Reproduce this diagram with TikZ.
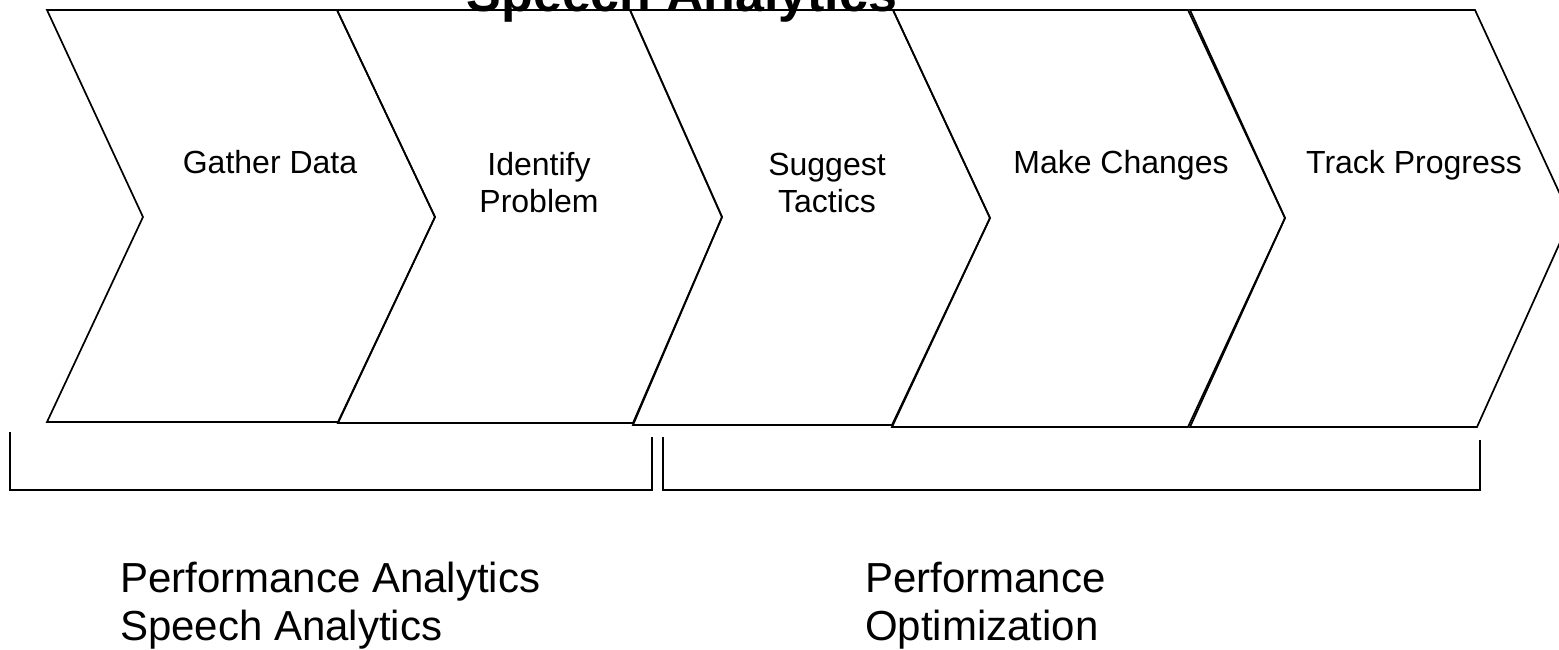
\documentclass[tikz,border=0pt]{standalone}
\usepackage{fontspec}
\setmainfont{Liberation Sans}

\begin{document}
\begin{tikzpicture}[x=1pt,y=-1pt,
	chev/.style={draw,line width=1.7pt,line join=miter},
	brace/.style={draw,line width=1.7pt},
	steplbl/.style={font=\fontsize{32}{37}\selectfont,align=center,anchor=base,inner sep=0pt},
	grplbl/.style={font=\fontsize{42}{48}\selectfont,align=left,anchor=base west,inner sep=0pt}]
				\clip (0,0) rectangle (1559,649);

				% chevrons
				\draw [chev] (47,10) -- (143,217) -- (47,422) -- (338,422) -- (435,217) -- (337,10) -- cycle;
				\draw [chev] (337,10) -- (435,217) -- (338,423) -- (633,423) -- (722,217) -- (630,10) -- cycle;
				\draw [chev] (630,10) -- (722,217) -- (633,425) -- (892,425) -- (990,218) -- (893,10) -- cycle;
				\draw [chev] (893,10) -- (990,218) -- (892,427) -- (1188,427) -- (1285,218) -- (1188,10) -- cycle;
				\draw [chev] (1190,10) -- (1285,218) -- (1190,427) -- (1477,427) -- (1571,218) -- (1475,10) -- cycle;

				\node (title) at (682,11) [anchor=base,inner sep=0pt,font=\fontsize{52}{60}\selectfont\bfseries] {Speech Analytics};

				\node (gather) at (270,173) [steplbl] {Gather Data};
				\node (identify) at (539,212) [steplbl] {Identify\\Problem};
				\node (suggest) at (827,212) [steplbl] {Suggest\\Tactics};
				\node (change) at (1121,173) [steplbl] {Make Changes};
				\node (track) at (1414,173) [steplbl] {Track Progress};

				% brackets
				\draw [brace] (10,432) -- (10,490) -- (652,490) -- (652,437);
				\draw [brace] (663,437) -- (663,490) -- (1480,490) -- (1480,440);

				\node (analytics) at (120,640) [grplbl] {Performance Analytics\\Speech Analytics};
				\node (optimize) at (865,640) [grplbl] {Performance\\Optimization};
		\end{tikzpicture}
\end{document}
